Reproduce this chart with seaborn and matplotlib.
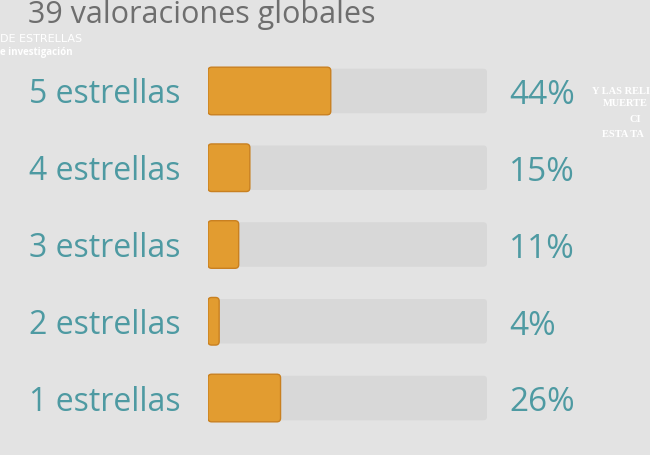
import numpy as np
import pandas as pd
import matplotlib
matplotlib.use("Agg")
import matplotlib.pyplot as plt
from matplotlib.patches import FancyBboxPatch
import seaborn as sns

# data
titulo = "39 valoraciones globales"
categorias = ["5 estrellas", "4 estrellas", "3 estrellas", "2 estrellas", "1 estrellas"]
porcentajes = [44, 15, 11, 4, 26]

bg = "#e3e3e3"
track = "#d8d8d8"
naranja = "#e29c30"
teal = "#4e9aa2"

sns.set_theme(style="white")
plt.rcParams["font.family"] = ["Open Sans", "DejaVu Sans"]

df = pd.DataFrame({"cat": categorias, "pct": porcentajes, "full": [100] * len(categorias)})

fig = plt.figure(figsize=(6.5, 4.55), dpi=100, facecolor=bg)
ax = fig.add_axes([208 / 650, 1 - 436.4 / 455, (487 - 208) / 650, (436.4 - 52.6) / 455])
ax.set_facecolor(bg)

sns.barplot(data=df, y="cat", x="full", color=track, width=0.58, ax=ax, saturation=1, linewidth=0)
sns.barplot(data=df, y="cat", x="pct", color=naranja, width=0.62, ax=ax, saturation=1, linewidth=0)

# rounded corners on the bars
aspect = (1 / 76.75) / (100 / 279)
for p in list(ax.patches):
    x, y = p.get_x(), p.get_y()
    w, h = p.get_width(), p.get_height()
    fc = p.get_facecolor()
    ec = "#c98020" if w < 100 else "none"
    p.remove()
    ax.add_patch(FancyBboxPatch((x, y), w, h, boxstyle="round,pad=0,rounding_size=1.3",
                                mutation_aspect=aspect, facecolor=fc, edgecolor=ec, linewidth=1))

ax.set_xlim(0, 100)
ax.set_xlabel("")
ax.set_ylabel("")
ax.set_xticks([])
ax.tick_params(axis="y", length=0, pad=20, labelsize=23, labelcolor=teal)
for s in ax.spines.values():
    s.set_visible(False)

for i, p in enumerate(porcentajes):
    ax.text(108, i + 0.01, f"{p}%", va="center_baseline", ha="left", fontsize=24, color=teal)

fig.text(28 / 650, 1 - 23 / 455, titulo, fontsize=22, color="#6e6e6e", ha="left", va="baseline")

# overlays visible in the screenshot
fig.text(0, 1 - 39 / 455, "DE ESTRELLAS", fontsize=8, color="white", va="center",
         family=["Liberation Sans Narrow", "DejaVu Sans"])
fig.text(0, 1 - 52 / 455, "e investigación", fontsize=7, color="white", va="center", fontweight="bold")
serif = dict(color="white", va="center", family=["Liberation Serif"], fontweight="bold", fontsize=7.5)
fig.text(592 / 650, 1 - 92 / 455, "Y LAS RELI", **serif)
fig.text(603 / 650, 1 - 103 / 455, "MUERTE", **serif)
fig.text(629 / 650, 1 - 120 / 455, "CI", **serif)
fig.text(602 / 650, 1 - 134 / 455, "ESTA TA", **serif)

fig.savefig("out.png", dpi=100, facecolor=bg)
